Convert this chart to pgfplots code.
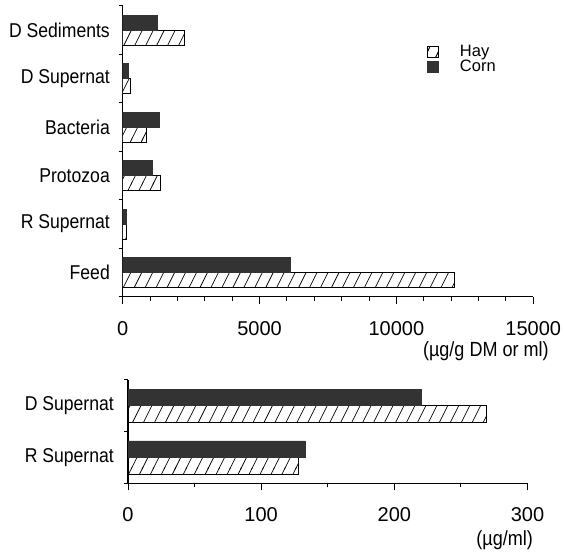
\documentclass[border=0pt]{standalone}
\usepackage{pgfplots}
\pgfplotsset{compat=1.18}
\usepackage{fontspec}
\setmainfont{Liberation Sans}
\newfontfamily\lbl[FakeStretch=0.88]{Liberation Sans}
\usetikzlibrary{patterns}

\pgfdeclarepatternformonly{hay}{\pgfqpoint{-1pt}{-1pt}}{\pgfqpoint{12pt}{23pt}}{\pgfqpoint{11pt}{22pt}}{%
  \pgfsetlinewidth{0.7pt}%
  \pgfpathmoveto{\pgfqpoint{-0.5pt}{-1pt}}%
  \pgfpathlineto{\pgfqpoint{11.5pt}{23pt}}%
  \pgfusepath{stroke}}

\definecolor{corn}{gray}{0.2}

\pgfplotsset{
  mybars/.style={
    scale only axis,
    anchor=south west,
    xbar,
    enlargelimits=false,
    axis x line*=bottom,
    axis y line*=left,
    axis line style={line width=1.2bp, black},
    tick align=outside,
    major tick length=7bp,
    minor tick length=4bp,
    tick style={line width=1bp, black},
    major y tick style={draw=none},
    scaled x ticks=false,
    /pgf/number format/assume math mode=true,
    /pgf/number format/1000 sep={},
    xticklabel style={font=\fontsize{20bp}{22bp}\selectfont, yshift=-14bp},
    yticklabel style={font=\lbl\fontsize{20bp}{22bp}\selectfont, inner sep=0pt},
    xlabel style={font=\lbl\fontsize{20.5bp}{22bp}\selectfont, inner sep=0pt, anchor=east},
  },
  hay/.style={draw=black, line width=0.8bp, fill=white, postaction={pattern=hay}},
  cornb/.style={draw=corn, line width=0.8bp, fill=corn},
}

\begin{document}
\begin{tikzpicture}
\useasboundingbox (0,0) rectangle (565bp,556bp);

% ---------- top chart ----------
\begin{axis}[mybars,
  at={(122.7bp,259.3bp)},
  width=410.6bp, height=290.7bp,
  xmin=0, xmax=15000,
  ymin=-0.5, ymax=5.5,
  xtick={0,5000,10000,15000},
  minor xtick={0,1000,...,15000},
  ytick={0,1,2,3,4,5},
  yticklabels={Feed,R Supernat,Protozoa,Bacteria,D Supernat,D Sediments},
  minor ytick={-0.5,0.5,1.5,2.5,3.5,4.5,5.5},
  yticklabel style={xshift=-5.7bp},
  bar width=15bp,
  xlabel={(µg/g DM or ml)},
  xlabel style={at={(axis description cs:1.038,0)}, yshift=-54.5bp},
  legend style={at={(0.741,0.869)}, anchor=north west, draw=none, fill=none,
    inner sep=0pt, row sep=0bp, column sep=20bp,
    nodes={inner sep=1bp, font=\fontsize{16.5bp}{18bp}\selectfont}},
  legend cell align=left,
]
\addplot[hay, bar shift=-7.5bp,
  legend image code/.code={\draw[draw=black, line width=0.8bp, fill=white, postaction={pattern=hay}] (0bp,-5.5bp) rectangle (11bp,5.5bp);}]
  coordinates {(12100,0) (128,1) (1360,2) (855,3) (269,4) (2250,5)};
\addlegendentry{Hay}
\addplot[cornb, bar shift=7.5bp,
  legend image code/.code={\draw[draw=corn, line width=0.8bp, fill=corn] (0bp,-5.5bp) rectangle (11bp,5.5bp);}]
  coordinates {(6115,0) (133,1) (1100,2) (1355,3) (220,4) (1280,5)};
\addlegendentry{Corn}
\end{axis}

% ---------- bottom chart ----------
\begin{axis}[mybars,
  at={(128bp,72.7bp)},
  width=399.5bp, height=103.3bp,
  xmin=0, xmax=300,
  ymin=-0.5, ymax=1.5,
  xtick={0,100,200,300},
  minor xtick={50,150,250},
  ytick={0,1},
  yticklabels={R Supernat,D Supernat},
  minor ytick={-0.5,0.5,1.5},
  yticklabel style={xshift=-7bp},
  bar width=16.5bp,
  xlabel={(µg/ml)},
  xlabel style={at={(axis description cs:1.014,0)}, yshift=-56.5bp},
]
\addplot[hay, bar shift=-8.25bp] coordinates {(128,0) (269,1)};
\addplot[cornb, bar shift=8.25bp] coordinates {(133,0) (220,1)};
\end{axis}
\end{tikzpicture}
\end{document}
